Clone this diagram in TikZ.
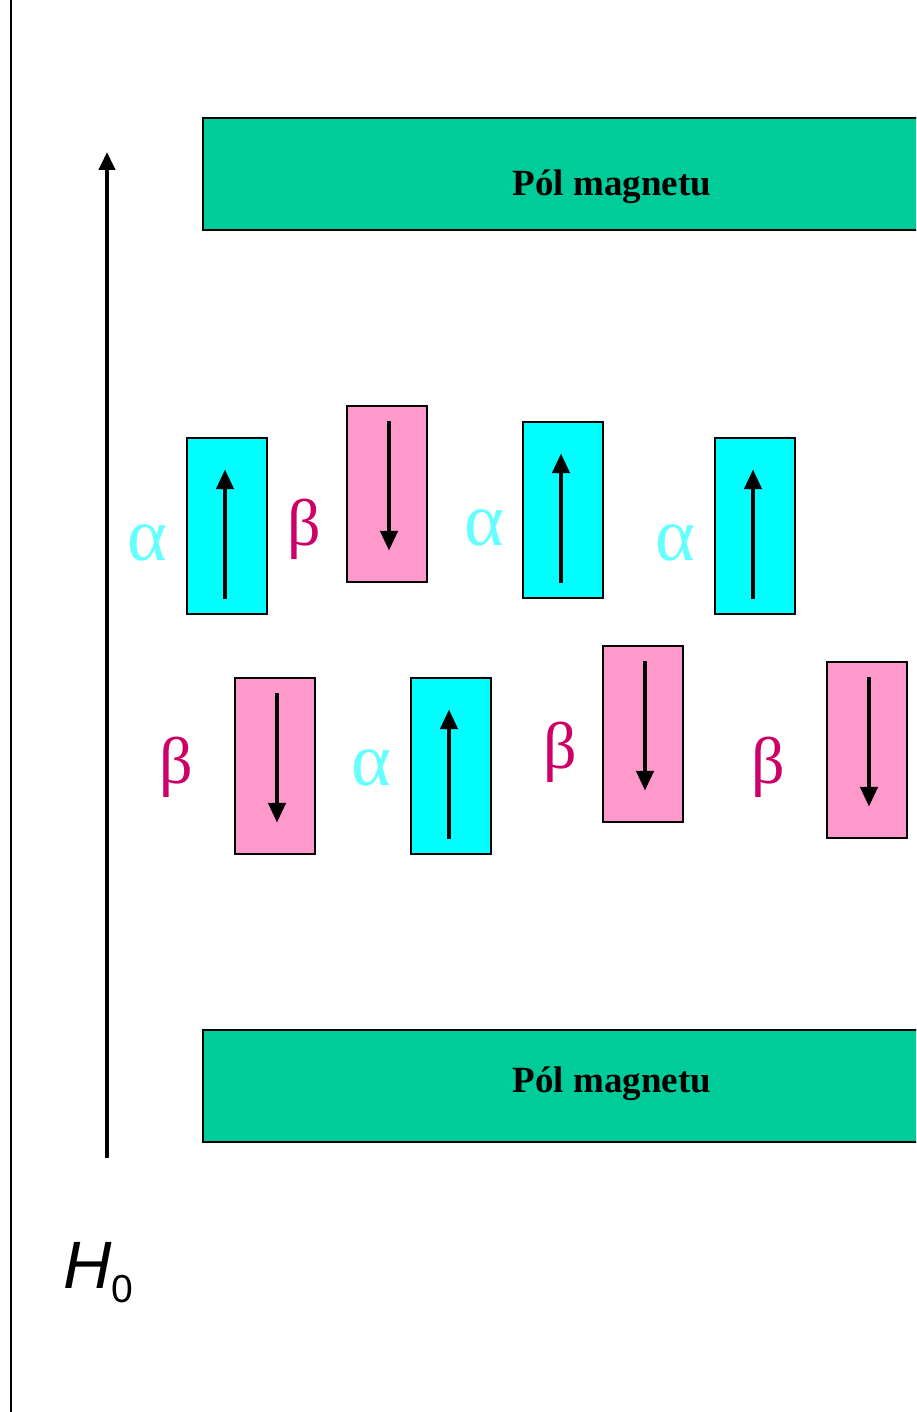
\documentclass[tikz,border=0pt]{standalone}
\usepackage{fontspec}
\setmainfont{Liberation Serif}
\newfontfamily\arialfont{Liberation Sans}
\usetikzlibrary{arrows.meta}
\definecolor{polegreen}{HTML}{00CC99}
\definecolor{spincyan}{HTML}{00FFFF}
\definecolor{spinpink}{HTML}{FF99CC}
\definecolor{alphacol}{HTML}{66FFFF}
\definecolor{betacol}{HTML}{CC0066}
\tikzset{
  pole/.style={draw=black, line width=1.6pt, fill=polegreen, minimum width=818pt, minimum height=112pt, inner sep=0pt},
  poletext/.style={anchor=base, font=\fontsize{37}{37}\selectfont\bfseries, inner sep=0pt},
  upbox/.style={draw=black, line width=1.6pt, fill=spincyan, minimum width=80pt, minimum height=176pt, inner sep=0pt},
  downbox/.style={draw=black, line width=1.6pt, fill=spinpink, minimum width=80pt, minimum height=176pt, inner sep=0pt},
  spinarrow/.style={line width=4.5pt, -{Triangle[length=20pt,width=17pt]}},
  alphalab/.style={anchor=base, text=alphacol, font=\fontsize{76}{76}\selectfont, inner sep=0pt},
  betalab/.style={anchor=base, text=betacol, font=\fontsize{66}{66}\selectfont, inner sep=0pt},
}
\begin{document}
\begin{tikzpicture}[x=1pt, y=-1pt]
\clip (0,0) rectangle (916,1412);
\fill[white] (0,0) rectangle (916,1412);
% left border line
\coordinate (lt) at (11,0);
\coordinate (lb) at (11,1412);
\draw[line width=2pt] (lt) -- (lb);
% field arrow
\coordinate (hb) at (107,1158);
\coordinate (ht) at (107,152);
\draw[line width=4pt, -{Triangle[length=18pt,width=16pt]}] (hb) -- (ht);
\node[anchor=base west, inner sep=0pt] (h0) at (63,1288) {\arialfont\fontsize{67}{67}\selectfont\textit{H}\raisebox{-14pt}{\fontsize{39}{39}\selectfont 0}};
% magnet poles
\node[pole] (poletop) at (612,174) {};
\node[poletext] (poletoptxt) at (612,196) {Pól magnetu};
\node[pole] (polebot) at (612,1086) {};
\node[poletext] (polebottxt) at (612,1092) {Pól magnetu};
% top row
\node[upbox] (s1) at (227,526) {};
\node[downbox] (s2) at (387,494) {};
\node[upbox] (s3) at (563,510) {};
\node[upbox] (s4) at (755,526) {};
% bottom row
\node[downbox] (s5) at (275,766) {};
\node[upbox] (s6) at (451,766) {};
\node[downbox] (s7) at (643,734) {};
\node[downbox] (s8) at (867,750) {};
% spin arrows
\foreach \n in {s1,s3,s4,s6}{
  \draw[spinarrow] ([xshift=-2pt,yshift=16pt]\n.south) -- ([xshift=-2pt,yshift=-32pt]\n.north);
}
\foreach \n in {s2,s5,s7,s8}{
  \draw[spinarrow] ([xshift=2pt,yshift=-16pt]\n.north) -- ([xshift=2pt,yshift=32pt]\n.south);
}
% labels
\node[alphalab] (l1) at (147,560) {α};
\node[betalab] (l2) at (304,545) {β};
\node[alphalab] (l3) at (484,545) {α};
\node[alphalab] (l4) at (675,560) {α};
\node[betalab] (l5) at (176,783) {β};
\node[alphalab] (l6) at (371,785) {α};
\node[betalab] (l7) at (560,768) {β};
\node[betalab] (l8) at (768,783) {β};
\end{tikzpicture}
\end{document}
